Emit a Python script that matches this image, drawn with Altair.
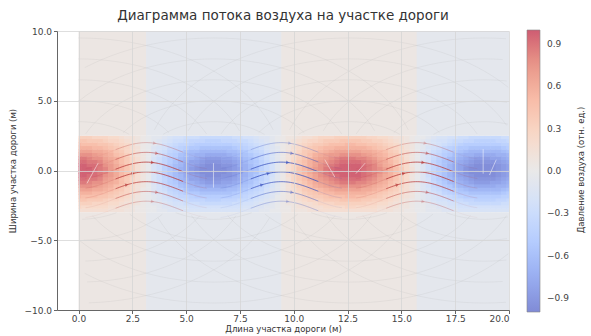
import math
import altair as alt
import numpy as np
import pandas as pd

# ---------------- texts ----------------
title_text = "Диаграмма потока воздуха на участке дороги"
x_label = "Длина участка дороги (м)"
y_label = "Ширина участка дороги (м)"
cbar_label = "Давление воздуха (отн. ед.)"

x_ticks = [0, 2.5, 5, 7.5, 10, 12.5, 15, 17.5, 20]
y_ticks = [-10, -7.5, -5, -2.5, 0, 2.5, 5, 7.5, 10]
cbar_ticks = [-0.9, -0.6, -0.3, 0.0, 0.3, 0.6, 0.9]

# ---------------- pressure field ----------------
x_samples = [i * 0.25 for i in range(81)]
p_centerline = [
    1.00, 0.99, 0.97, 0.93, 0.88, 0.81, 0.73, 0.64, 0.54, 0.43, 0.32, 0.19, 0.07,
    -0.05, -0.18, -0.30, -0.42, -0.53, -0.63, -0.72, -0.80, -0.87, -0.92, -0.96,
    -0.99, -1.00, -0.99, -0.97, -0.94, -0.88, -0.82, -0.74, -0.65, -0.56, -0.45,
    -0.33, -0.21, -0.09, 0.04, 0.16, 0.28, 0.40, 0.51, 0.61, 0.71, 0.79, 0.86,
    0.92, 0.96, 0.99, 1.00, 1.00, 0.98, 0.94, 0.89, 0.83, 0.75, 0.67, 0.57, 0.46,
    0.35, 0.23, 0.10, -0.02, -0.15, -0.27, -0.39, -0.50, -0.60, -0.70, -0.78,
    -0.85, -0.91, -0.96, -0.99, -1.00, -1.00, -0.98, -0.95, -0.90, -0.84,
]
y_rows = [-2.875 + 0.25 * j for j in range(22)]
p_cross = [0.19, 0.25, 0.32, 0.41, 0.50, 0.59, 0.69, 0.78, 0.86, 0.92, 0.97, 1.00,
           1.00, 0.97, 0.92, 0.86, 0.78, 0.69, 0.59, 0.50, 0.41, 0.32]
road_bottom, road_top = -3.0, 2.5

outer_x0 = [0.0, 3.14, 9.42, 15.71]
outer_x1 = [3.14, 9.42, 15.71, 20.0]
outer_p = [0.05, -0.05, 0.05, -0.05]

# ---------------- streamlines ----------------
arc_peaks = [3.14, 9.42, 15.71]
arc_colors = ["#b83a3a", "#3d55c0", "#b83a3a"]
arc_levels = [2.0, 1.3, 0.6, -0.1, -0.8, -1.5, -2.2]
arc_alpha = [0.25, 0.45, 0.7, 0.75, 0.65, 0.4, 0.25]
arc_arrow_dx = [0.4, 0.5, 0.3, -0.6, -0.9, 0.5, 0.3]
arc_amp = 0.6

circle_centres = [0.0, 6.28, 12.57, 18.85]
circle_radii = [3.5, 5.0, 6.5, 8.0, 9.5]

white_x0 = [0.4, 6.27, 11.45, 12.9, 18.8, 19.1]
white_y0 = [-0.9, 0.5, 0.75, -0.2, 1.5, -0.3]
white_x1 = [0.9, 6.27, 11.9, 13.3, 18.8, 19.4]
white_y1 = [0.5, -1.2, -0.45, 0.5, -0.2, 0.75]

# ---------------- colour map (coolwarm, alpha-blended on white) ----------------
cw_domain = [-1, -0.75, -0.5, -0.25, 0, 0.25, 0.5, 0.75, 1]
cw_colors = ["#3b4cc0", "#6282ea", "#8db0fe", "#b8d0f9", "#dddddd",
             "#f5c4ac", "#f49a7b", "#dd604c", "#b40426"]
ALPHA = 0.65


def blend(h, a=ALPHA):
    rgb = [int(h[i:i + 2], 16) for i in (1, 3, 5)]
    return "#%02x%02x%02x" % tuple(int(round(a * c + (1 - a) * 255)) for c in rgb)


cw_range = [blend(c) for c in cw_colors]


def quant(v):
    q = math.floor(v * 20) / 20 + 0.025
    return max(-0.975, min(0.975, q))


# ---------------- build tables ----------------
OV = 0.03  # tiny overlap so that neighbouring cells leave no seams
cells = []
for xs, px in zip(x_samples, p_centerline):
    for yr, py in zip(y_rows, p_cross):
        cells.append(dict(x0=max(0.0, xs - 0.125), x1=min(20.0, xs + 0.125 + OV),
                          y0=yr - 0.125, y1=min(road_top, yr + 0.125 + OV), p=quant(px * py)))
for a, b, p in zip(outer_x0, outer_x1, outer_p):
    cells.append(dict(x0=a, x1=min(20.0, b + OV), y0=road_top, y1=10.0, p=p))
    cells.append(dict(x0=a, x1=min(20.0, b + OV), y0=-10.0, y1=road_bottom, p=p))
cells_df = pd.DataFrame(cells)

lines = []
arrows = []
seg = 0
for pk, col in zip(arc_peaks, arc_colors):
    for lv, al, adx in zip(arc_levels, arc_alpha, arc_arrow_dx):
        for (a, b, o, w) in [(pk - 2.8, pk + 2.8, al * 0.3, 0.7), (pk - 1.4, pk + 1.7, al, 1.0)]:
            for k, xv in enumerate(np.linspace(a, b, 40)):
                lines.append(dict(x=xv, y=lv - arc_amp * (1 - math.cos(xv - pk)),
                                  seg=seg, i=k, c=col, o=o, w=w))
            seg += 1
        xa = pk + adx
        slope = arc_amp * math.sin(xa - pk) * 13.95 / 21.55
        ang = math.degrees(math.atan(slope)) % 360
        arrows.append(dict(x=xa, y=lv - arc_amp * (1 - math.cos(xa - pk)), c=col, o=al, ang=ang))


def flush(cur):
    global seg
    if len(cur) > 1:
        for k, (u, v) in enumerate(cur):
            lines.append(dict(x=u, y=v, seg=seg, i=k, c="#a0a0a0", o=0.22, w=0.6))
        seg += 1


for cx in circle_centres:
    for r in circle_radii:
        cur = []
        for deg in range(0, 361, 3):
            t = math.radians(deg)
            xv, yv = cx + r * math.cos(t), r * math.sin(t)
            ok = (0 <= xv <= 20) and (abs(yv) <= 10) and (yv >= road_top or yv <= road_bottom)
            if ok:
                cur.append((xv, yv))
            else:
                flush(cur)
                cur = []
        flush(cur)

for a, b, c, d in zip(white_x0, white_y0, white_x1, white_y1):
    lines.append(dict(x=a, y=b, seg=seg, i=0, c="#ffffff", o=0.5, w=1.0))
    lines.append(dict(x=c, y=d, seg=seg, i=1, c="#ffffff", o=0.5, w=1.0))
    seg += 1

lines_df = pd.DataFrame(lines)
arrows_df = pd.DataFrame(arrows)

# ---------------- chart ----------------
FONT = "DejaVu Sans"
xscale = alt.Scale(domain=[-1, 20], nice=False, zero=False)
yscale = alt.Scale(domain=[-10, 10], nice=False, zero=False)
cscale = alt.Scale(domain=cw_domain, range=cw_range)

xaxis = alt.Axis(title=x_label, values=x_ticks, format=".1f", grid=True,
                 gridColor="#d6d6d6", gridWidth=0.8, tickColor="#666", domainColor="#666",
                 tickSize=3.5, labelFontSize=9, labelColor="#444", titleFontSize=8.5,
                 titleColor="#333", titleFontWeight="normal", titlePadding=1,
                 labelPadding=1, zindex=1)
yaxis = alt.Axis(title=y_label, values=y_ticks, format=".1f", grid=True,
                 gridColor="#d6d6d6", gridWidth=0.8, tickColor="#666", domainColor="#666",
                 tickSize=3.5, labelFontSize=9, labelColor="#444", titleFontSize=8.5,
                 titleColor="#333", titleFontWeight="normal", titlePadding=6,
                 labelPadding=2, zindex=1)

heat = alt.Chart(cells_df).mark_rect().encode(
    x=alt.X("x0:Q", scale=xscale, axis=xaxis),
    x2="x1:Q",
    y=alt.Y("y0:Q", scale=yscale, axis=yaxis),
    y2="y1:Q",
    color=alt.Color("p:Q", scale=cscale, legend=alt.Legend(
        type="gradient", title=None, orient="none", legendX=470, legendY=-1,
        direction="vertical", gradientLength=282, gradientThickness=13,
        values=cbar_ticks, format=".1f", labelFontSize=9, labelColor="#444",
        labelOffset=7, gradientStrokeColor="#888", gradientStrokeWidth=0.6)),
)

stream = alt.Chart(lines_df).mark_line(strokeCap="round").encode(
    x=alt.X("x:Q", scale=xscale),
    y=alt.Y("y:Q", scale=yscale),
    detail="seg:N",
    order="i:Q",
    color=alt.Color("c:N", scale=None),
    opacity=alt.Opacity("o:Q", scale=None),
    strokeWidth=alt.StrokeWidth("w:Q", scale=None),
)

arrow_marks = alt.Chart(arrows_df).mark_point(shape="triangle-right", filled=True, size=14).encode(
    x=alt.X("x:Q", scale=xscale),
    y=alt.Y("y:Q", scale=yscale),
    color=alt.Color("c:N", scale=None),
    opacity=alt.Opacity("o:Q", scale=None),
    angle=alt.Angle("ang:Q", scale=None),
)

cbar_title = alt.Chart(pd.DataFrame({"t": [cbar_label]})).mark_text(
    angle=270, fontSize=8.5, font=FONT, color="#333", align="center", baseline="middle"
).encode(x=alt.value(524), y=alt.value(139), text="t:N")

chart = alt.layer(heat, stream, arrow_marks, cbar_title).resolve_scale(
    color="independent", opacity="independent"
).properties(
    width=452, height=279,
    autosize=alt.AutoSizeParams(type="none"),
    padding={"left": 57, "top": 31, "right": 82, "bottom": 26},
    title=alt.TitleParams(title_text, fontSize=13.5, font=FONT, fontWeight="normal",
                          color="#333", offset=5, anchor="middle"),
).configure(font=FONT).configure_view(stroke=None)

chart.save("out.html", embed_options={"renderer": "svg", "actions": False})
